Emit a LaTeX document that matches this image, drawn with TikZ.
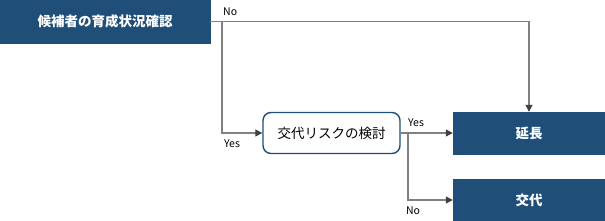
\documentclass[tikz,border=0pt]{standalone}
\usepackage{fontspec}
\setmainfont{Noto Sans CJK JP}
\usetikzlibrary{arrows.meta}
\definecolor{navy}{HTML}{1F4E79}
\definecolor{wire}{HTML}{808080}
\definecolor{tipc}{HTML}{404040}
\tikzset{
  solid box/.style={fill=navy,draw=navy,text=white,inner sep=0pt,font=\bfseries\fontsize{13.5}{15}\selectfont},
  check box/.style={draw=navy,line width=1.4pt,rounded corners=8pt,fill=white,inner sep=0pt,font=\fontsize{13.5}{15}\selectfont},
  flow/.style={draw=wire,line width=1.2pt,-{Triangle[length=7pt,width=7pt,fill=tipc,color=tipc]}},
  tag/.style={font=\fontsize{10.5}{12}\selectfont,inner sep=0pt}
}
\begin{document}
\begin{tikzpicture}[x=1pt,y=-1pt]
\useasboundingbox (0,0) rectangle (605,221);
\node[solid box,minimum width=210pt,minimum height=43pt] (grow) at (105,21.5) {候補者の育成状況確認};
\node[check box,minimum width=137pt,minimum height=41pt] (risk) at (331.5,133) {交代リスクの検討};
\node[solid box,minimum width=152pt,minimum height=42pt] (ext) at (529,133) {延長};
\node[solid box,minimum width=152pt,minimum height=42pt] (rep) at (529,200) {交代};
\coordinate (s1) at (222,21.5);
\coordinate (s2) at (408,133);
\draw[flow] (grow.east) -- (grow.east -| ext.north) -- (ext.north);
\draw[flow] (s1) |- (risk.west);
\draw[flow] (risk.east) -- (ext.west);
\draw[flow] (s2) |- (rep.west);
\node[tag,anchor=west] (no1) at (223,12) {No};
\node[tag] (yes1) at (232,144) {Yes};
\node[tag] (yes2) at (416,123) {Yes};
\node[tag] (no2) at (413,211) {No};
\end{tikzpicture}
\end{document}
